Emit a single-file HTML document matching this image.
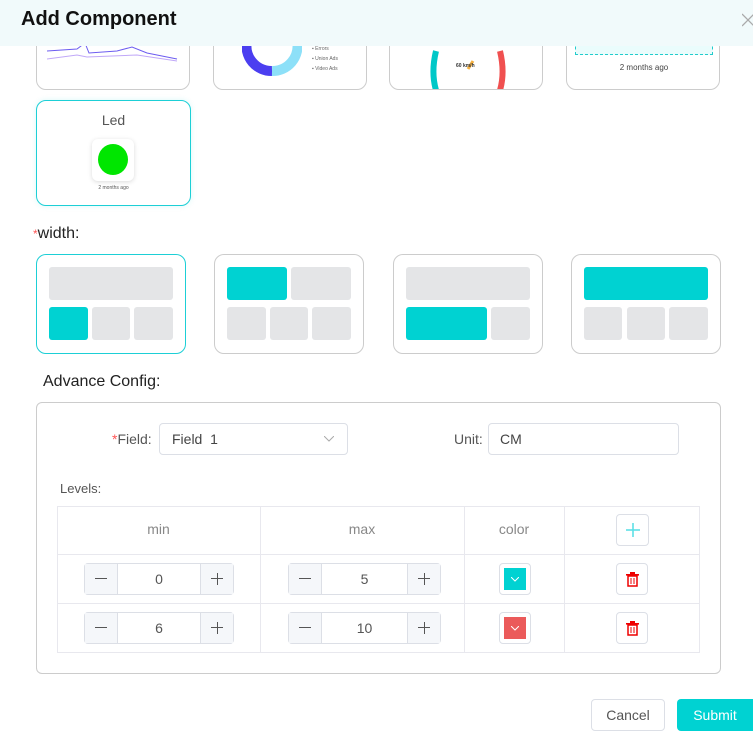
<!DOCTYPE html>
<html><head><style>
*{box-sizing:border-box;margin:0;padding:0}
html,body{overflow:hidden}
body{width:753px;height:745px;background:#fff;font-family:"Liberation Sans",sans-serif;position:relative;color:#333}
.a{position:absolute}
.card{position:absolute;border:1px solid #ccc;border-radius:10px;background:#fff;overflow:hidden}
.g{position:absolute;background:#e4e5e7;border-radius:3px}
.t{position:absolute;background:#00d2d2;border-radius:3px}
.wc{position:absolute;border:1px solid #ccc;border-radius:10px;top:254px;height:100px;width:150px}
.step{position:absolute;width:150px;height:32px;border:1px solid #dcdfe6;border-radius:4px;background:#fff}
.step .m,.step .p{position:absolute;top:0;width:33px;height:30px;background:#f5f7fa}
.step .m{left:0;border-right:1px solid #dcdfe6}
.step .p{right:0;border-left:1px solid #dcdfe6}
.step .m::before,.step .p::before{content:"";position:absolute;left:10px;top:14px;width:12px;height:1.3px;background:#555}
.step .p::after{content:"";position:absolute;left:15.5px;top:8.5px;width:1.3px;height:12px;background:#555}
.step .v{position:absolute;left:33px;right:33px;text-align:center;line-height:30px;font-size:14px;color:#555}
.sb{position:absolute;width:32px;height:32px;border:1px solid #dcdfe6;border-radius:4px;background:#fff}
</style></head><body>
<div class="card" style="left:36px;top:20px;width:154px;height:70px">
<svg class="a" style="left:10px;top:22px" width="135" height="20"><polyline points="0,8 30,6 38,0 42,10 70,8 85,4 100,10 130,16" fill="none" stroke="#6c5cf0" stroke-width="1"/><polyline points="0,16 30,12 40,14 90,12 130,18" fill="none" stroke="#c0a8f8" stroke-width="1"/></svg>
</div>
<div class="card" style="left:213px;top:20px;width:154px;height:70px">
<svg class="a" style="left:28px;top:20px" width="60" height="55"><path d="M5 0 A25 25 0 0 0 30 30" fill="none" stroke="#4b3ef0" stroke-width="10"/><path d="M30 30 A25 25 0 0 0 55 0" fill="none" stroke="#8de0f8" stroke-width="10"/></svg>
<div class="a" style="left:98px;top:23px;font-size:5px;color:#666;line-height:10px">▪ Errors<br>▪ Union Ads<br>▪ Video Ads</div>
</div>
<div class="card" style="left:389px;top:20px;width:154px;height:70px">
<svg class="a" style="left:38px;top:20px" width="80" height="60"><path d="M8 10 Q2 35 10 55" fill="none" stroke="#00c8c8" stroke-width="6"/><path d="M72 10 Q78 35 70 55" fill="none" stroke="#f05050" stroke-width="6"/><line x1="40" y1="28" x2="45" y2="20" stroke="#f5b040" stroke-width="3"/></svg>
<div class="a" style="left:66px;top:42px;font-size:5px;font-weight:bold">60 km/h</div>
</div>
<div class="card" style="left:566px;top:20px;width:154px;height:70px">
<div class="a" style="left:8px;top:20px;width:138px;height:14px;border:1px dashed #2cc;border-top:none;background:#eafcfc"></div>
<div class="a" style="left:0;width:154px;top:42px;text-align:center;font-size:8px;color:#444">2 months ago</div>
</div>
<div class="a" style="left:0;top:0;width:753px;height:46px;background:#f1fafb"></div>
<div class="a" style="left:21px;top:8px;font-size:20px;font-weight:bold;color:#111">Add Component</div>
<svg class="a" style="left:742px;top:12px" width="11" height="16"><line x1="0" y1="2" x2="12" y2="14" stroke="#aaa" stroke-width="1.3"/><line x1="12" y1="2" x2="0" y2="14" stroke="#aaa" stroke-width="1.3"/></svg>
<div class="card" style="left:36px;top:100px;width:155px;height:106px;border-color:#1dcfd6;box-shadow:0 0 6px rgba(0,210,210,.15)">
<div class="a" style="left:0;width:153px;top:11px;text-align:center;font-size:14px;color:#555">Led</div>
<div class="a" style="left:55px;top:38px;width:42px;height:42px;border-radius:6px;box-shadow:0 1px 5px rgba(0,0,0,.15);background:#fff"><div class="a" style="left:6px;top:5px;width:30px;height:31px;border-radius:50%;background:#00e600"></div></div>
<div class="a" style="left:0;width:153px;top:84px;text-align:center;font-size:5px;color:#555">2 months ago</div>
</div>
<div class="a" style="left:33px;top:225px;font-size:16px;color:#222"><span style="color:#f55;font-size:12px">*</span>width:</div>
<div class="wc" style="left:36px;border-color:#1dcfd6"></div>
<div class="g" style="left:49px;top:267px;width:124px;height:33px"></div>
<div class="t" style="left:49px;top:307px;width:39px;height:33px"></div>
<div class="g" style="left:92px;top:307px;width:38px;height:33px"></div>
<div class="g" style="left:134px;top:307px;width:39px;height:33px"></div>
<div class="wc" style="left:214px"></div>
<div class="t" style="left:227px;top:267px;width:60px;height:33px"></div>
<div class="g" style="left:291px;top:267px;width:60px;height:33px"></div>
<div class="g" style="left:227px;top:307px;width:39px;height:33px"></div>
<div class="g" style="left:270px;top:307px;width:38px;height:33px"></div>
<div class="g" style="left:312px;top:307px;width:39px;height:33px"></div>
<div class="wc" style="left:393px"></div>
<div class="g" style="left:406px;top:267px;width:124px;height:33px"></div>
<div class="t" style="left:406px;top:307px;width:81px;height:33px"></div>
<div class="g" style="left:491px;top:307px;width:39px;height:33px"></div>
<div class="wc" style="left:571px"></div>
<div class="t" style="left:584px;top:267px;width:124px;height:33px"></div>
<div class="g" style="left:584px;top:307px;width:38px;height:33px"></div>
<div class="g" style="left:627px;top:307px;width:38px;height:33px"></div>
<div class="g" style="left:669px;top:307px;width:39px;height:33px"></div>
<div class="a" style="left:43px;top:373px;font-size:16px;color:#222">Advance Config:</div>
<div class="a" style="left:36px;top:402px;width:685px;height:272px;border:1px solid #ccc;border-radius:6px"></div>
<div class="a" style="left:112px;top:431px;font-size:14px;color:#555"><span style="color:#f55">*</span>Field:</div>
<div class="a" style="left:159px;top:423px;width:189px;height:32px;border:1px solid #dcdfe6;border-radius:4px;padding-left:12px;line-height:30px;font-size:14px;color:#444">Field&nbsp; 1<svg class="a" style="right:13px;top:12px" width="10" height="6"><polyline points="0,0 5,5 10,0" fill="none" stroke="#aaa"/></svg></div>
<div class="a" style="left:454px;top:431px;font-size:14px;color:#555">Unit:</div>
<div class="a" style="left:488px;top:423px;width:191px;height:32px;border:1px solid #dcdfe6;border-radius:4px;padding-left:11px;line-height:30px;font-size:14px;color:#444">CM</div>
<div class="a" style="left:60px;top:481px;font-size:13px;color:#555">Levels:</div>
<div class="a" style="left:57px;top:506px;width:643px;height:147px;border:1px solid #e8e8ee"></div>
<div class="a" style="left:57px;top:554px;width:643px;height:1px;background:#e8e8ee"></div>
<div class="a" style="left:57px;top:603px;width:643px;height:1px;background:#e8e8ee"></div>
<div class="a" style="left:260px;top:506px;width:1px;height:147px;background:#e8e8ee"></div>
<div class="a" style="left:464px;top:506px;width:1px;height:147px;background:#e8e8ee"></div>
<div class="a" style="left:564px;top:506px;width:1px;height:147px;background:#e8e8ee"></div>
<div class="a" style="left:57px;width:203px;top:521px;text-align:center;font-size:14px;color:#888">min</div>
<div class="a" style="left:260px;width:204px;top:521px;text-align:center;font-size:14px;color:#888">max</div>
<div class="a" style="left:464px;width:100px;top:521px;text-align:center;font-size:14px;color:#888">color</div>
<div class="sb" style="left:616px;top:514px;width:33px"><svg class="a" style="left:9px;top:8px" width="14" height="14"><line x1="0" y1="7" x2="14" y2="7" stroke="#5ee0e6" stroke-width="1.6"/><line x1="7" y1="0" x2="7" y2="14" stroke="#5ee0e6" stroke-width="1.6"/></svg></div>
<div class="step" style="left:84px;top:563px"><div class="m"></div><div class="v">0</div><div class="p"></div></div>
<div class="step" style="left:288px;top:563px;width:153px"><div class="m"></div><div class="v">5</div><div class="p"></div></div>
<div class="step" style="left:84px;top:612px"><div class="m"></div><div class="v">6</div><div class="p"></div></div>
<div class="step" style="left:288px;top:612px;width:153px"><div class="m"></div><div class="v">10</div><div class="p"></div></div>
<div class="sb" style="left:499px;top:563px"><div class="a" style="left:4px;top:4px;width:22px;height:22px;background:#00d2d2"><svg class="a" style="left:7px;top:9px" width="8" height="5"><polyline points="0,0 4,4 8,0" fill="none" stroke="#fff"/></svg></div></div>
<div class="sb" style="left:499px;top:612px"><div class="a" style="left:4px;top:4px;width:22px;height:22px;background:#eb5a5a"><svg class="a" style="left:7px;top:9px" width="8" height="5"><polyline points="0,0 4,4 8,0" fill="none" stroke="#fff"/></svg></div></div>
<div class="sb" style="left:616px;top:563px"><svg class="a" style="left:9px;top:8px" width="13" height="15"><rect x="0" y="2" width="13" height="1.6" fill="#e00"/><rect x="4" y="0" width="5" height="2" fill="#e00"/><rect x="2" y="4" width="9" height="10" fill="none" stroke="#e00" stroke-width="1.5"/><line x1="5" y1="6" x2="5" y2="12" stroke="#e00"/><line x1="8" y1="6" x2="8" y2="12" stroke="#e00"/></svg></div>
<div class="sb" style="left:616px;top:612px"><svg class="a" style="left:9px;top:8px" width="13" height="15"><rect x="0" y="2" width="13" height="1.6" fill="#e00"/><rect x="4" y="0" width="5" height="2" fill="#e00"/><rect x="2" y="4" width="9" height="10" fill="none" stroke="#e00" stroke-width="1.5"/><line x1="5" y1="6" x2="5" y2="12" stroke="#e00"/><line x1="8" y1="6" x2="8" y2="12" stroke="#e00"/></svg></div>
<div class="a" style="left:591px;top:699px;width:74px;height:32px;border:1px solid #dcdfe6;border-radius:4px;text-align:center;line-height:30px;font-size:14px;color:#555">Cancel</div>
<div class="a" style="left:677px;top:699px;width:76px;height:32px;background:#00d2d2;border-radius:4px 0 0 4px;text-align:center;line-height:32px;font-size:14px;color:#fff">Submit</div>
</body></html>
